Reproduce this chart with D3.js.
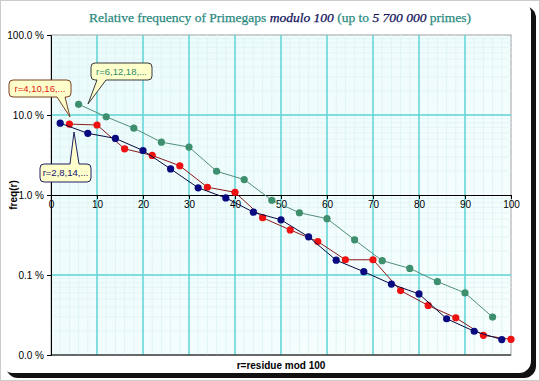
<!DOCTYPE html>
<html><head><meta charset="utf-8">
<script src="https://cdn.jsdelivr.net/npm/d3@7"></script>
<style>body{margin:0;background:#fff;}svg{display:block;}</style>
</head><body>
<svg id="c" width="540" height="381"></svg>
<script>
// residues (x) and relative frequencies in percent
const rBlue = [2,8,14,20,26,32,38,44,50,56,62,68,74,80,86,92,98];
const fBlue = [7.9,5.9,5.1,3.6,2.12,1.23,0.92,0.61,0.49,0.30,0.153,0.110,0.077,0.058,0.0284,0.0198,0.0156];
const rRed = [4,10,16,22,28,34,40,46,52,58,64,70,76,82,88,94,100];
const fRed = [7.7,7.5,3.78,3.12,2.32,1.25,1.08,0.52,0.366,0.262,0.155,0.155,0.0638,0.0416,0.0292,0.0176,0.0157];
const rGreen = [6,12,18,24,30,36,42,48,54,60,66,72,78,84,90,96];
const fGreen = [13.6,9.5,6.84,4.58,3.97,1.98,1.56,0.86,0.60,0.506,0.275,0.151,0.121,0.0826,0.0597,0.0298];
const xTicks = [0,10,20,30,40,50,60,70,80,90,100];
const yTicks = [100,10,1,0.1,0.01];
const yTickLabels = ["100.0 %","10.0 %","1.0 %","0.1 %","0.0 %"];
const labels = {green:"r=6,12,18,...", red:"r=4,10,16,...", blue:"r=2,8,14,..."};

const svg = d3.select("#c");
// outer card
svg.append("rect").attr("x",0.5).attr("y",0.5).attr("width",539).attr("height",380)
  .attr("fill","#fff").attr("stroke","#999").attr("stroke-dasharray","1,1");
svg.append("rect").attr("x",6).attr("y",6).attr("width",530).attr("height",372).attr("rx",12)
  .attr("fill","#111");
svg.append("rect").attr("x",1).attr("y",1).attr("width",530).attr("height",372).attr("rx",12)
  .attr("fill","#fff");

const x = d3.scaleLinear().domain([0,100]).range([51,511]);
const y = d3.scaleLog().domain([0.01,100]).range([355,35]);

const defs = svg.append("defs");
const grad = defs.append("linearGradient").attr("id","bg").attr("x1",0).attr("y1",0).attr("x2",1).attr("y2",1);
grad.append("stop").attr("offset","0%").attr("stop-color","#eafbfb");
grad.append("stop").attr("offset","100%").attr("stop-color","#f8fefe");
svg.append("rect").attr("x",x(0)).attr("y",y(100)).attr("width",x(100)-x(0)).attr("height",y(0.01)-y(100))
  .attr("fill","url(#bg)").attr("stroke","#a0a0a0");

const g = svg.append("g");
// minor grid
for (let v=2; v<100; v+=2) if (v%10) g.append("line").attr("x1",x(v)).attr("x2",x(v)).attr("y1",y(100)).attr("y2",y(0.01)).attr("stroke","#e0f4f4").attr("stroke-width",1);
[0.01,0.1,1,10].forEach(d=>{for(let k=2;k<10;k++){const v=d*k;g.append("line").attr("x1",x(0)).attr("x2",x(100)).attr("y1",y(v)).attr("y2",y(v)).attr("stroke","#e2f5f5");}});
// major grid
xTicks.slice(1,-1).forEach(v=>g.append("line").attr("x1",x(v)).attr("x2",x(v)).attr("y1",y(100)).attr("y2",y(0.01)).attr("stroke","#5cd4d4").attr("stroke-width",1.5));
[10,0.1].forEach(v=>g.append("line").attr("x1",x(0)).attr("x2",x(100)).attr("y1",y(v)).attr("y2",y(v)).attr("stroke","#5cd4d4").attr("stroke-width",1.5));

// axes
const ya = svg.append("g").attr("transform",`translate(${x(0)},0)`)
  .call(d3.axisLeft(y).tickValues(yTicks).tickFormat((d,i)=>yTickLabels[i]).tickSize(4).tickPadding(3));
ya.select(".domain").attr("stroke","#000");
ya.selectAll("text").attr("font-family","Arial, 'Liberation Sans', sans-serif").attr("font-size",10).attr("fill","#000");
// bottom black line
svg.append("line").attr("x1",x(0)).attr("x2",x(100)).attr("y1",y(0.01)).attr("y2",y(0.01)).attr("stroke","#000");
const xa = svg.append("g").attr("transform",`translate(0,${y(1)})`)
  .call(d3.axisBottom(x).tickValues(xTicks).tickSize(4).tickPadding(2).tickSizeOuter(0));
xa.select(".domain").attr("stroke","#000");
xa.selectAll("text").attr("font-family","Arial, 'Liberation Sans', sans-serif").attr("font-size",10).attr("fill","#000");

// series
const series = [
  {r:rGreen,f:fGreen,line:"#4f8f78",dot:"#3d8f6e"},
  {r:rRed,f:fRed,line:"#8a1a1a",dot:"#ee1111"},
  {r:rBlue,f:fBlue,line:"#0a0a40",dot:"#0a0a80"}
];
const lineGen = d3.line().x(d=>x(d[0])).y(d=>y(d[1]));
series.forEach(s=>{
  const pts = s.r.map((r,i)=>[r,s.f[i]]);
  svg.append("path").datum(pts).attr("d",lineGen).attr("fill","none").attr("stroke",s.line).attr("stroke-width",1);
  svg.selectAll(null).data(pts).enter().append("circle").attr("cx",d=>x(d[0])).attr("cy",d=>y(d[1])).attr("r",3.6).attr("fill",s.dot);
});

// callouts
function callout(bx,by,bw,bh,base1,base2,tip,text,col,stroke,down){
  const r=4, g2=svg.append("g");
  let p;
  if(down){
    p=`M${bx+r},${by} H${bx+bw-r} Q${bx+bw},${by} ${bx+bw},${by+r} V${by+bh-r} Q${bx+bw},${by+bh} ${bx+bw-r},${by+bh} H${base2} L${tip[0]},${tip[1]} L${base1},${by+bh} H${bx+r} Q${bx},${by+bh} ${bx},${by+bh-r} V${by+r} Q${bx},${by} ${bx+r},${by} Z`;
  } else {
    p=`M${bx+r},${by} H${base1} L${tip[0]},${tip[1]} L${base2},${by} H${bx+bw-r} Q${bx+bw},${by} ${bx+bw},${by+r} V${by+bh-r} Q${bx+bw},${by+bh} ${bx+bw-r},${by+bh} H${bx+r} Q${bx},${by+bh} ${bx},${by+bh-r} V${by+r} Q${bx},${by} ${bx+r},${by} Z`;
  }
  g2.append("path").attr("d",p).attr("fill","#ffffcc").attr("stroke",stroke).attr("stroke-width",1);
  g2.append("text").attr("x",bx+bw/2).attr("y",by+bh/2+3.3).attr("text-anchor","middle")
    .attr("font-family","Arial, 'Liberation Sans', sans-serif").attr("font-size",9.5).attr("fill",col).text(text);
}
callout(91,63,61,17,97,106,[88,104],labels.green,"#2e8b6a","#3a3a3a",true);
callout(9,80,62,17,57,65,[70,117],labels.red,"#e02010","#7a4020",true);
callout(40,164,51,18,70,79,[74,132],labels.blue,"#101070","#202060",false);

// title
const t = svg.append("text").attr("x",280).attr("y",22).attr("text-anchor","middle")
  .attr("font-family","'Liberation Serif','Times New Roman',serif").attr("font-size",13.5).attr("fill","#2a8a80")
  .attr("stroke","#2a8a80").attr("stroke-width",0.25);
t.append("tspan").text("Relative frequency of Primegaps ");
t.append("tspan").attr("font-style","italic").attr("fill","#10105a").attr("stroke","#10105a").text("modulo 100");
t.append("tspan").text(" (up to ");
t.append("tspan").attr("font-style","italic").attr("fill","#10105a").attr("stroke","#10105a").text("5 700 000");
t.append("tspan").text(" primes)");

svg.append("text").attr("transform","translate(17,195) rotate(-90)").attr("text-anchor","middle")
  .attr("font-family","Arial, 'Liberation Sans', sans-serif").attr("font-weight","bold").attr("font-size",10).text("freq(r)");
svg.append("text").attr("x",281).attr("y",369).attr("text-anchor","middle")
  .attr("font-family","Arial, 'Liberation Sans', sans-serif").attr("font-weight","bold").attr("font-size",10).text("r=residue mod 100");
</script>
</body></html>
